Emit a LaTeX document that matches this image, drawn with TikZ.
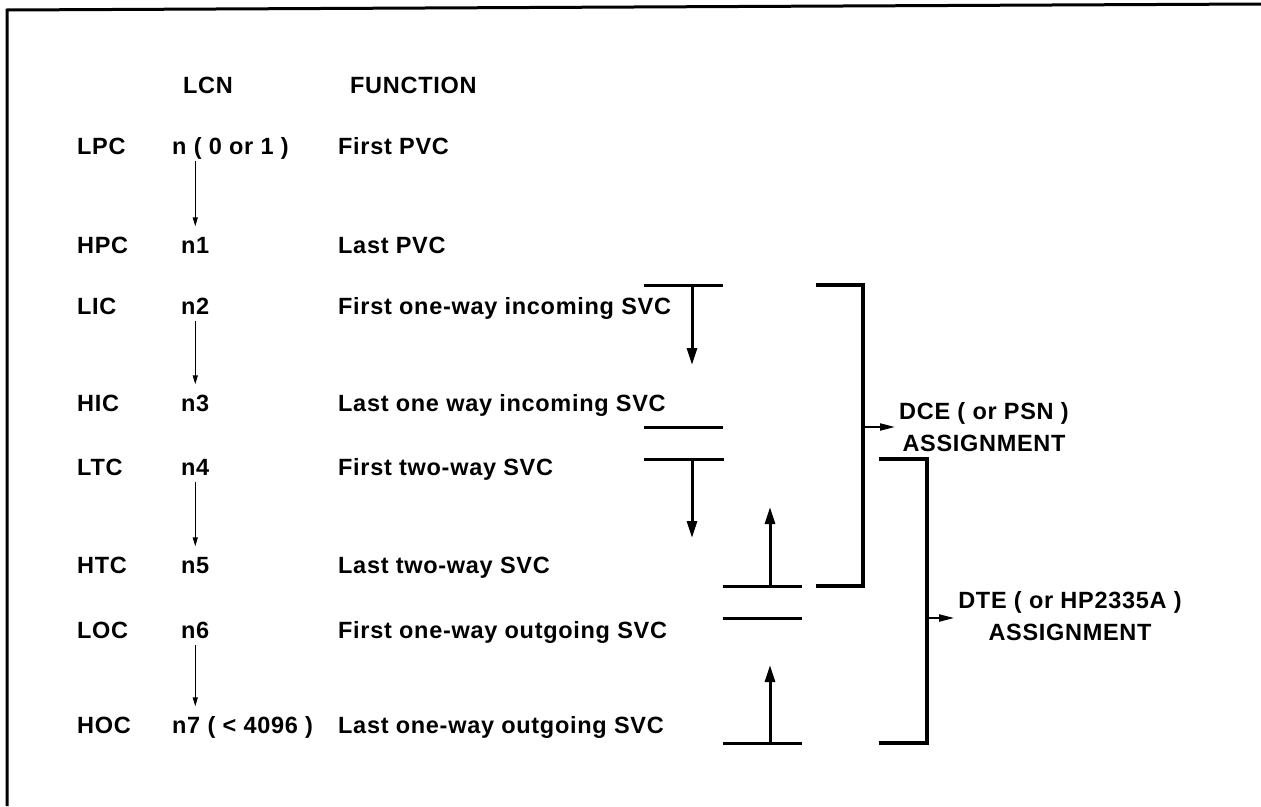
\documentclass[tikz,border=0pt]{standalone}
\usepackage{fontspec}
\setmainfont[LetterSpace=3.0]{Liberation Sans}
\usetikzlibrary{arrows.meta,positioning}

\begin{document}
\begin{tikzpicture}[
    x=1pt, y=-1pt,
    txt/.style={anchor=west, inner sep=0pt, text height=17pt, text depth=0pt, font=\fontsize{23.5}{32}\selectfont\bfseries},
    assign/.style={align=center, inner sep=4pt, font=\fontsize{23.5}{32}\selectfont\bfseries},
    lcnarrow/.style={-{Triangle[length=9pt,width=5pt]}, line width=1.3pt, shorten <=6pt, shorten >=10pt},
    rangeline/.style={line width=3pt},
    rangearrow/.style={-{Triangle[length=17pt,width=10pt]}, line width=3pt},
    bracket/.style={line width=3.2pt},
    joinarrow/.style={-{Triangle[length=15pt,width=7pt]}, line width=2pt}
]
\useasboundingbox (0,0) rectangle (1261,806);

% Frame
\draw[line width=3pt] (7,806) -- (7,10) -- (1261,4);

% Header
\node[txt] (hlcn) at (183,85) {LCN};
\node[txt] (hfunc) at (350,85) {FUNCTION};

% Left column - limits
\node[txt] (lpc) at (77,146) {LPC};
\node[txt] (hpc) at (77,245) {HPC};
\node[txt] (lic) at (77,306) {LIC};
\node[txt] (hic) at (77,403) {HIC};
\node[txt] (ltc) at (77,467) {LTC};
\node[txt] (htc) at (77,565) {HTC};
\node[txt] (loc) at (77,630) {LOC};
\node[txt] (hoc) at (77,725) {HOC};

% Middle column - LCN values
\node[txt] (n0) at (172,146) {n ( 0 or 1 )};
\node[txt] (n1) at (181,245) {n1};
\node[txt] (n2) at (181,306) {n2};
\node[txt] (n3) at (181,403) {n3};
\node[txt] (n4) at (181,467) {n4};
\node[txt] (n5) at (181,565) {n5};
\node[txt] (n6) at (181,630) {n6};
\node[txt] (n7) at (172,725) {n7 ( < 4096 )};

% Right column - functions
\node[txt] (f0) at (338,146) {First PVC};
\node[txt] (f1) at (338,245) {Last PVC};
\node[txt] (f2) at (338,306) {First one-way incoming SVC};
\node[txt] (f3) at (338,403) {Last one way incoming SVC};
\node[txt] (f4) at (338,467) {First two-way SVC};
\node[txt] (f5) at (338,565) {Last two-way SVC};
\node[txt] (f6) at (338,630) {First one-way outgoing SVC};
\node[txt] (f7) at (338,725) {Last one-way outgoing SVC};

% Arrows between LCN limits
\draw[lcnarrow] (n0.south -| n1.north) -- (n1.north);
\draw[lcnarrow] (n2.south) -- (n3.north);
\draw[lcnarrow] (n4.south) -- (n5.north);
\draw[lcnarrow] (n6.south) -- (n6.south |- n7.north);

% Incoming range
\draw[rangeline] (644,285) -- (723,285);
\draw[rangearrow] (692,285) -- (692,365);
\draw[rangeline] (644,427) -- (723,427);

% Two-way range
\draw[rangeline] (644,459) -- (724,459);
\draw[rangearrow] (692,459) -- (692,538);
\draw[rangeline] (723,586) -- (802,586);
\draw[rangearrow] (770,586) -- (770,507);

% Outgoing range
\draw[rangeline] (723,618) -- (802,618);
\draw[rangeline] (723,743) -- (802,743);
\draw[rangearrow] (770,743) -- (770,665);

% Assignment nodes
\node[assign] (dce) at (984,427) {DCE ( or PSN )\\ASSIGNMENT};
\node[assign] (dte) at (1070,616) {DTE ( or HP2335A )\\ASSIGNMENT};

% Brackets
\draw[bracket] (816,285) -| (863,586) -- (816,586);
\coordinate (dcejoin) at (863,427);
\draw[joinarrow] (dcejoin) -- (dcejoin -| dce.west);
\draw[bracket] (879,459) -| (927,743) -- (879,743);
\coordinate (dtejoin) at (927,618);
\draw[joinarrow] (dtejoin) -- (dtejoin -| dte.west);

\end{tikzpicture}
\end{document}
